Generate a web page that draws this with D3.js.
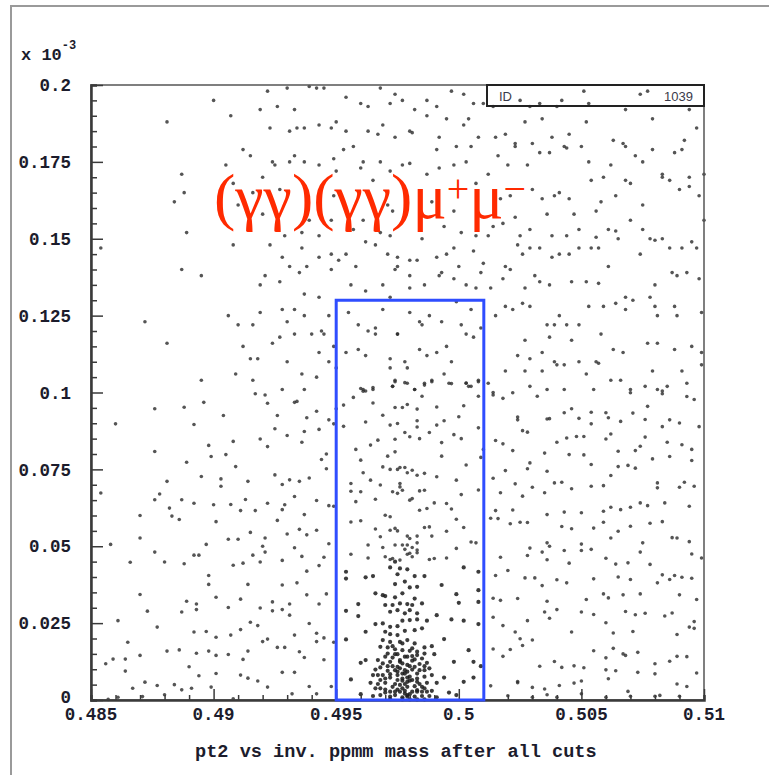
<!DOCTYPE html>
<html>
<head>
<meta charset="utf-8">
<script src="https://cdn.jsdelivr.net/npm/d3@7"></script>
<style>
  body { margin: 0; background: #fff; }
  svg { display: block; }
</style>
</head>
<body>
<script>
// ---- data (mass in GeV, pt2 in units of 1e-3) ----
var xTicks = [0.485, 0.49, 0.495, 0.5, 0.505, 0.51];
var xTickLabels = ["0.485", "0.49", "0.495", "0.5", "0.505", "0.51"];
var yTicks = [0, 0.025, 0.05, 0.075, 0.1, 0.125, 0.15, 0.175, 0.2];
var yTickLabels = ["0", "0.025", "0.05", "0.075", "0.1", "0.125", "0.15", "0.175", "0.2"];
var cutMass = [0.495, 0.50102];
var cutPt2 = 0.13;
var histId = "1039";

var pointsUpperLeft = [
[0.4922,0.198],[0.4930,0.199],[0.4939,0.1995],[0.4942,0.199],[0.4945,0.199],[0.4968,0.199],[0.4900,0.195],[0.4954,0.196],
[0.4919,0.192],[0.4926,0.193],[0.4933,0.192],[0.4960,0.194],[0.4963,0.193],[0.4972,0.194],[0.4974,0.197],[0.4881,0.188],
[0.4907,0.190],[0.4923,0.186],[0.4931,0.185],[0.4934,0.186],[0.4937,0.186],[0.4943,0.187],[0.4948,0.186],[0.4950,0.188],
[0.4954,0.185],[0.4963,0.185],[0.4967,0.184],[0.4969,0.187],[0.4974,0.183],[0.4912,0.179],[0.4915,0.177],[0.4953,0.179],
[0.4957,0.180],[0.4905,0.174],[0.4924,0.175],[0.4925,0.174],[0.4931,0.175],[0.4933,0.177],[0.4937,0.175],[0.4943,0.174],
[0.4949,0.176],[0.4950,0.172],[0.4961,0.175],[0.4960,0.173],[0.4968,0.175],[0.4972,0.172],[0.4887,0.171],[0.4920,0.170],
[0.4908,0.168],[0.4965,0.169],[0.4888,0.165],[0.4884,0.162],[0.4910,0.161],[0.4916,0.165],[0.4927,0.166],[0.4938,0.165],
[0.4949,0.164],[0.4971,0.161],[0.4973,0.159],[0.4920,0.158],[0.4939,0.156],[0.4948,0.156],[0.4961,0.156],[0.4889,0.152],
[0.4929,0.151],[0.4936,0.152],[0.4943,0.151],[0.4957,0.153],[0.4962,0.149],[0.4968,0.152],[0.4972,0.151],[0.4854,0.147],
[0.4908,0.148],[0.4923,0.148],[0.4936,0.147],[0.4966,0.148],[0.4971,0.145],[0.4928,0.144],[0.4943,0.144],[0.4948,0.145],
[0.4951,0.143],[0.4954,0.145],[0.4975,0.144],[0.4887,0.140],[0.4931,0.141],[0.4938,0.141],[0.4948,0.140],[0.4958,0.141],
[0.4974,0.140],[0.4895,0.138],[0.4921,0.138],[0.4935,0.139],[0.4919,0.135],[0.4927,0.136],[0.4956,0.135],[0.4962,0.133],
[0.4969,0.135],[0.4937,0.132],[0.4943,0.131],[0.4972,0.131],[0.4906,0.125],[0.4919,0.126],[0.4928,0.127],[0.4933,0.127],
[0.4937,0.125],[0.4947,0.125],[0.4955,0.126],[0.4969,0.127],[0.4872,0.123],[0.4910,0.122],[0.4916,0.122],[0.4930,0.123],
[0.4944,0.120],[0.4945,0.119],[0.4940,0.119],[0.4933,0.119],[0.4959,0.122],[0.4963,0.120],[0.4966,0.121],[0.4966,0.119],
[0.4975,0.119],[0.4881,0.116],[0.4912,0.115],[0.4924,0.116],[0.4927,0.118],[0.4949,0.115],[0.4954,0.113],[0.4959,0.114],
[0.4962,0.112],[0.4915,0.111],[0.4918,0.111],[0.4930,0.110],[0.4943,0.113],[0.4947,0.110],[0.4950,0.108],[0.4972,0.111],
[0.4972,0.108],[0.4895,0.104],[0.4909,0.106],[0.4916,0.104],[0.4936,0.106],[0.4942,0.105],[0.4974,0.104],[0.4928,0.101],
[0.4937,0.101],[0.4961,0.101],[0.4962,0.1005],[0.4965,0.101],[0.4973,0.102]
];

var pointsUpperRight = [
[0.4977,0.195],[0.4982,0.192],[0.4987,0.195],[0.4991,0.193],[0.4997,0.198],[0.5002,0.197],[0.5006,0.194],[0.5010,0.194],
[0.5025,0.195],[0.5033,0.194],[0.5042,0.195],[0.5051,0.198],[0.5053,0.194],[0.5074,0.197],[0.5077,0.198],[0.5029,0.193],
[0.5040,0.193],[0.5068,0.192],[0.5094,0.192],[0.5014,0.193],[0.4987,0.190],[0.4995,0.189],[0.5004,0.189],[0.5002,0.187],
[0.5027,0.188],[0.5034,0.189],[0.5052,0.188],[0.5079,0.189],[0.5097,0.186],[0.4980,0.185],[0.4981,0.1845],[0.4992,0.183],
[0.4991,0.179],[0.4999,0.180],[0.5005,0.180],[0.5008,0.183],[0.5015,0.183],[0.5019,0.184],[0.5023,0.181],[0.5023,0.180],
[0.5030,0.181],[0.5033,0.178],[0.5037,0.178],[0.5038,0.183],[0.5043,0.180],[0.5044,0.1795],[0.5045,0.184],[0.5050,0.180],
[0.5063,0.182],[0.5067,0.181],[0.5068,0.180],[0.5072,0.177],[0.5079,0.179],[0.5088,0.178],[0.5091,0.179],[0.5092,0.182],
[0.4977,0.174],[0.4980,0.1745],[0.4987,0.171],[0.4992,0.173],[0.4998,0.174],[0.5003,0.175],[0.5016,0.177],[0.5020,0.174],
[0.5028,0.174],[0.5012,0.171],[0.5053,0.175],[0.5062,0.174],[0.5075,0.175],[0.5083,0.171],[0.5083,0.170],[0.5086,0.169],
[0.5094,0.170],[0.5100,0.171],[0.5054,0.169],[0.5059,0.170],[0.5068,0.169],[0.5070,0.168],[0.5090,0.166],[0.5094,0.167],
[0.5098,0.164],[0.5007,0.168],[0.5030,0.166],[0.5034,0.163],[0.5039,0.164],[0.5041,0.165],[0.5045,0.163],[0.5058,0.162],
[0.5064,0.164],[0.5075,0.161],[0.5017,0.163],[0.5021,0.164],[0.4985,0.150],[0.4989,0.162],[0.4994,0.154],[0.5001,0.152],
[0.5007,0.151],[0.5012,0.151],[0.5014,0.154],[0.5018,0.155],[0.5023,0.157],[0.5025,0.151],[0.5029,0.153],[0.4998,0.159],
[0.5036,0.158],[0.5047,0.158],[0.5056,0.159],[0.5049,0.153],[0.5038,0.151],[0.5044,0.151],[0.5056,0.1505],[0.5061,0.153],
[0.5064,0.1525],[0.5070,0.156],[0.5065,0.150],[0.5075,0.153],[0.5078,0.150],[0.5080,0.1495],[0.5083,0.150],[0.5095,0.149],
[0.5086,0.147],[0.5091,0.147],[0.5097,0.147],[0.5100,0.156],[0.5024,0.148],[0.5026,0.145],[0.5029,0.147],[0.5033,0.147],
[0.5038,0.144],[0.5041,0.145],[0.5045,0.145],[0.5049,0.147],[0.5054,0.147],[0.5057,0.147],[0.5074,0.145],[0.5061,0.141],
[0.4980,0.143],[0.4983,0.143],[0.4991,0.144],[0.4995,0.145],[0.4998,0.147],[0.5006,0.146],[0.5010,0.142],[0.5000,0.141],
[0.5019,0.141],[0.5021,0.140],[0.4975,0.141],[0.4980,0.138],[0.4986,0.135],[0.4992,0.138],[0.4993,0.139],[0.4998,0.137],
[0.5003,0.135],[0.5007,0.134],[0.5009,0.139],[0.5013,0.134],[0.5018,0.137],[0.5027,0.134],[0.5031,0.138],[0.5033,0.136],
[0.5037,0.135],[0.5046,0.136],[0.5052,0.136],[0.5057,0.1355],[0.5080,0.135],[0.5087,0.139],[0.5089,0.138],[0.5093,0.139],
[0.5098,0.137],[0.4980,0.134],[0.5068,0.131],[0.5078,0.131],[0.5053,0.128],[0.5059,0.128],[0.5064,0.129],[0.5068,0.127],
[0.5071,0.130],[0.5080,0.128],[0.5081,0.125],[0.5088,0.128],[0.5089,0.125],[0.5099,0.126],[0.5019,0.128],[0.5022,0.127],
[0.5026,0.129],[0.5029,0.128],[0.5015,0.125],[0.5041,0.125],[0.5036,0.122],[0.5039,0.122],[0.5044,0.122],[0.5049,0.122],
[0.5027,0.117],[0.5037,0.118],[0.5046,0.117],[0.5058,0.119],[0.5063,0.114],[0.5067,0.113],[0.5077,0.116],[0.5081,0.116],
[0.5088,0.114],[0.5095,0.115],[0.5099,0.113],[0.5024,0.112],[0.5029,0.111],[0.5034,0.113],[0.5039,0.110],[0.5040,0.109],
[0.5043,0.109],[0.5049,0.110],[0.5056,0.110],[0.5057,0.1095],[0.5052,0.106],[0.5034,0.107],[0.5027,0.107],[0.5019,0.107],
[0.5079,0.107],[0.5091,0.107],[0.5099,0.109],[0.5029,0.102],[0.5036,0.101],[0.5043,0.101],[0.5055,0.101],[0.5062,0.104],
[0.5066,0.104],[0.5070,0.101],[0.5076,0.102],[0.5081,0.101],[0.5083,0.1005],[0.5085,0.102],[0.5093,0.103],[0.5012,0.103],
[0.5014,0.100]
];

var pointsBoxUpper = [
[0.4980,0.126],[0.4984,0.123],[0.4985,0.122],[0.4988,0.125],[0.4993,0.123],[0.4999,0.1295],[0.5001,0.122],[0.5003,0.119],
[0.5006,0.118],[0.5005,0.127],[0.5009,0.121],[0.4975,0.119],[0.4984,0.114],[0.4991,0.113],[0.4995,0.115],[0.4978,0.110],
[0.4987,0.112],[0.4997,0.110],[0.4979,0.108],[0.4994,0.106],[0.4979,0.103],[0.4982,0.101],[0.4986,0.103],[0.4989,0.104],
[0.4996,0.103],[0.5003,0.103],[0.5004,0.102],[0.5008,0.104],
[0.4960,0.1013],[0.4961,0.1004],[0.4965,0.1016],[0.4973,0.1020],[0.4974,0.1035],[0.4978,0.1032],[0.4982,0.1010],[0.4986,0.1024],
[0.4989,0.1035],[0.4997,0.1029],[0.5003,0.1031],[0.5005,0.1020],[0.5008,0.1035],[0.4985,0.0988],[0.5008,0.0988],[0.4957,0.0984],
[0.4965,0.0966],[0.4953,0.0959],[0.4974,0.0951],[0.4977,0.0951],[0.4979,0.0961],[0.4983,0.0946],[0.4991,0.0953],[0.5002,0.0957],
[0.4969,0.0926],[0.5000,0.0921],[0.4962,0.0904],[0.4972,0.0894],[0.4975,0.0899],[0.4983,0.0908],[0.4983,0.0888],[0.4994,0.0908],
[0.4991,0.0894],[0.4953,0.0890],[0.4978,0.0870],[0.4980,0.0856],[0.4984,0.0850],[0.4988,0.0870],[0.4998,0.0863],[0.5001,0.0850],
[0.5008,0.0885],[0.4967,0.0845],[0.4974,0.0848],[0.4964,0.0829],[0.4993,0.0837],[0.4958,0.0815],[0.4971,0.0793],[0.4974,0.0807],
[0.4960,0.0780],[0.4993,0.0793],[0.5010,0.0815],[0.5009,0.0789],
[0.4961,0.0739],[0.4964,0.0715],[0.4969,0.0758],[0.4972,0.0750],[0.4975,0.0750],[0.4976,0.0756],[0.4978,0.0756],[0.4979,0.0739],
[0.4981,0.0747],[0.4983,0.0731],[0.4986,0.0737],[0.4991,0.0726],[0.4999,0.0715],[0.5003,0.0764],[0.5008,0.0683],[0.4956,0.0704],
[0.4956,0.0679],[0.4960,0.0677],[0.4968,0.0699],[0.4966,0.0653],[0.4958,0.0645],[0.4973,0.0677],[0.4976,0.0693],[0.4977,0.0682],
[0.4975,0.0672],[0.4976,0.0704],[0.4980,0.0650],[0.4981,0.0655],[0.4984,0.0617],[0.4987,0.0623],[0.4990,0.0641],[0.4984,0.0680],
[0.4986,0.0682],[0.4995,0.0639],[0.4997,0.0621],[0.5001,0.0668],[0.4956,0.0579],[0.4960,0.0583],[0.4970,0.0601],[0.4972,0.0596],
[0.4966,0.0556],[0.4972,0.0552],[0.4974,0.0558],[0.4975,0.0550],[0.4979,0.0533],[0.4980,0.0525],[0.4983,0.0533],[0.4986,0.0561],
[0.4988,0.0563],[0.4989,0.0533],[0.4983,0.0511],[0.4963,0.0504],[0.4969,0.0496],[0.4979,0.0504],[0.4981,0.0496],[0.4983,0.0488],
[0.4995,0.0549],[0.4999,0.0588],[0.5002,0.0561],[0.5005,0.0514],[0.5007,0.0511],[0.4956,0.0474],[0.4963,0.0462],[0.4970,0.0466],
[0.4972,0.0457],[0.4973,0.0460],[0.4976,0.0455],[0.4979,0.0474],[0.4980,0.0477],[0.4983,0.0479],[0.4988,0.0457],[0.4990,0.0460],
[0.4995,0.0462],[0.4999,0.0493],[0.4968,0.0531],[0.4974,0.0504],[0.4977,0.0504],[0.4978,0.0490],[0.4981,0.0466]
];

var pointsLowerLeft = [
[0.4917,0.0996],[0.4921,0.0992],[0.4922,0.0965],[0.4933,0.0968],[0.4934,0.0971],[0.4876,0.0947],[0.4888,0.0952],[0.4896,0.0968],
[0.4904,0.0925],[0.4860,0.0898],[0.4892,0.0896],[0.4926,0.0925],[0.4938,0.0918],[0.4942,0.0939],[0.4947,0.0911],[0.4949,0.0898],
[0.4950,0.0947],[0.4925,0.0882],[0.4930,0.0860],[0.4937,0.0873],[0.4943,0.0880],[0.4919,0.0849],[0.4908,0.0841],[0.4898,0.0828],
[0.4922,0.0824],[0.4936,0.0838],[0.4876,0.0808],[0.4889,0.0773],[0.4899,0.0792],[0.4905,0.0798],[0.4909,0.0759],[0.4944,0.0782],
[0.4946,0.0800],[0.4946,0.0752],[0.4895,0.0727],[0.4903,0.0719],[0.4903,0.0695],[0.4881,0.0711],[0.4914,0.0711],[0.4925,0.0732],
[0.4928,0.0701],[0.4931,0.0716],[0.4935,0.0711],[0.4939,0.0722],[0.4854,0.0673],[0.4876,0.0651],[0.4878,0.0670],[0.4887,0.0651],
[0.4892,0.0640],[0.4900,0.0635],[0.4907,0.0636],[0.4913,0.0652],[0.4911,0.0616],[0.4917,0.0616],[0.4922,0.0640],[0.4929,0.0635],
[0.4928,0.0619],[0.4933,0.0662],[0.4942,0.0649],[0.4947,0.0632],[0.4949,0.0630],[0.4870,0.0600],[0.4882,0.0624],[0.4883,0.0598],
[0.4886,0.0587],[0.4901,0.0580],[0.4926,0.0584],[0.4937,0.0603],[0.4870,0.0527],[0.4858,0.0506],[0.4897,0.0506],[0.4906,0.0523],
[0.4910,0.0523],[0.4915,0.0545],[0.4921,0.0527],[0.4920,0.0500],[0.4930,0.0540],[0.4935,0.0555],[0.4938,0.0537],[0.4942,0.0552],
[0.4933,0.0495],[0.4947,0.0508],[0.4876,0.0481],[0.4866,0.0448],[0.4880,0.0449],[0.4888,0.0443],[0.4892,0.0471],[0.4894,0.0471],
[0.4908,0.0438],[0.4912,0.0445],[0.4916,0.0471],[0.4919,0.0449],[0.4921,0.0481],[0.4928,0.0454],[0.4936,0.0467],[0.4945,0.0464],
[0.4943,0.0437],[0.4938,0.0419],[0.4898,0.0405],[0.4898,0.0376],[0.4914,0.0376],[0.4928,0.0374],[0.4934,0.0381],[0.4870,0.0343],
[0.4889,0.0321],[0.4893,0.0312],[0.4901,0.0334],[0.4911,0.0328],[0.4924,0.0319],[0.4931,0.0312],[0.4938,0.0342],[0.4946,0.0345],
[0.4924,0.0290],[0.4928,0.0294],[0.4931,0.0276],[0.4943,0.0312],[0.4873,0.0289],[0.4887,0.0286],[0.4893,0.0294],[0.4906,0.0301],
[0.4919,0.0299],[0.4861,0.0258],[0.4877,0.0237],[0.4915,0.0253],[0.4918,0.0242],[0.4939,0.0249],[0.4892,0.0221],[0.4897,0.0223],
[0.4901,0.0204],[0.4907,0.0211],[0.4911,0.0229],[0.4922,0.0198],[0.4920,0.0190],[0.4933,0.0211],[0.4942,0.0217],[0.4942,0.0190],
[0.4945,0.0202],[0.4865,0.0188],[0.4881,0.0159],[0.4886,0.0163],[0.4893,0.0152],[0.4898,0.0159],[0.4901,0.0145],[0.4906,0.0148],
[0.4914,0.0159],[0.4912,0.0132],[0.4926,0.0171],[0.4929,0.0171],[0.4935,0.0157],[0.4937,0.0138],[0.4945,0.0131],[0.4870,0.0145],
[0.4856,0.0118],[0.4859,0.0133],[0.4864,0.0133],[0.4864,0.0094],[0.4890,0.0108],[0.4894,0.0079],[0.4901,0.0086],[0.4911,0.0081],
[0.4914,0.0071],[0.4918,0.0062],[0.4928,0.0090],[0.4933,0.0090],[0.4949,0.0188],[0.4867,0.0038],[0.4872,0.0058],[0.4877,0.0047],
[0.4884,0.0050],[0.4887,0.0033],[0.4891,0.0038],[0.4899,0.0042],[0.4908,0.0004],[0.4880,0.0017],[0.4861,0.0009],[0.4871,0.0011],
[0.4922,0.0042],[0.4932,0.0020],[0.4939,0.0044],[0.4942,0.0020],[0.4948,0.0044],[0.4857,0.0002]
];

var pointsLowerRight = [
[0.5014,0.0992],[0.5018,0.0981],[0.5022,0.0999],[0.5032,0.0988],[0.5070,0.0999],[0.5083,0.0996],[0.5093,0.0987],[0.5096,0.0977],
[0.5077,0.0955],[0.5024,0.0920],[0.5024,0.0911],[0.5036,0.0914],[0.5037,0.0915],[0.5043,0.0934],[0.5046,0.0947],[0.5049,0.0916],
[0.5054,0.0936],[0.5054,0.0898],[0.5060,0.0934],[0.5061,0.0918],[0.5066,0.0906],[0.5071,0.0933],[0.5076,0.0912],[0.5083,0.0889],
[0.5086,0.0911],[0.5090,0.0901],[0.5098,0.0889],[0.5026,0.0876],[0.5028,0.0871],[0.5040,0.0838],[0.5044,0.0852],[0.5048,0.0857],
[0.5051,0.0857],[0.5062,0.0865],[0.5060,0.0849],[0.5015,0.0844],[0.5018,0.0833],[0.5022,0.0811],[0.5035,0.0803],[0.5045,0.0798],
[0.5051,0.0797],[0.5065,0.0809],[0.5072,0.0811],[0.5074,0.0825],[0.5076,0.0855],[0.5085,0.0838],[0.5091,0.0830],[0.5095,0.0815],
[0.5079,0.0784],[0.5086,0.0792],[0.5095,0.0779],[0.5029,0.0771],[0.5028,0.0752],[0.5036,0.0744],[0.5019,0.0746],[0.5054,0.0766],
[0.5062,0.0730],[0.5065,0.0759],[0.5069,0.0763],[0.5072,0.0754],[0.5014,0.0721],[0.5023,0.0703],[0.5030,0.0692],[0.5026,0.0663],
[0.5035,0.0674],[0.5039,0.0706],[0.5042,0.0708],[0.5046,0.0687],[0.5054,0.0695],[0.5059,0.0697],[0.5081,0.0706],[0.5081,0.0690],
[0.5090,0.0692],[0.5092,0.0708],[0.5096,0.0695],[0.5017,0.0674],[0.5015,0.0616],[0.5022,0.0618],[0.5036,0.0603],[0.5043,0.0611],
[0.5050,0.0609],[0.5059,0.0614],[0.5062,0.0627],[0.5066,0.0619],[0.5070,0.0627],[0.5074,0.0641],[0.5077,0.0632],[0.5084,0.0641],
[0.5094,0.0630],[0.5013,0.0591],[0.5016,0.0590],[0.5021,0.0573],[0.5025,0.0578],[0.5028,0.0577],[0.5042,0.0564],[0.5046,0.0557],
[0.5055,0.0559],[0.5059,0.0578],[0.5065,0.0549],[0.5070,0.0565],[0.5078,0.0575],[0.5083,0.0580],[0.5062,0.0527],[0.5087,0.0528],
[0.5089,0.0527],[0.5094,0.0515],[0.5029,0.0494],[0.5036,0.0511],[0.5037,0.0500],[0.5036,0.0456],[0.5028,0.0470],[0.5034,0.0481],
[0.5043,0.0486],[0.5050,0.0507],[0.5050,0.0486],[0.5054,0.0490],[0.5017,0.0464],[0.5020,0.0421],[0.5045,0.0445],[0.5060,0.0461],
[0.5064,0.0442],[0.5069,0.0446],[0.5074,0.0481],[0.5075,0.0511],[0.5078,0.0441],[0.5095,0.0475],[0.5099,0.0462],[0.5015,0.0405],
[0.5027,0.0397],[0.5031,0.0397],[0.5040,0.0391],[0.5055,0.0394],[0.5034,0.0372],[0.5044,0.0381],[0.5065,0.0400],[0.5070,0.0392],
[0.5081,0.0381],[0.5083,0.0407],[0.5086,0.0392],[0.5088,0.0405],[0.5091,0.0399],[0.5095,0.0396],[0.5014,0.0331],[0.5017,0.0324],
[0.5024,0.0330],[0.5036,0.0321],[0.5052,0.0327],[0.5059,0.0345],[0.5061,0.0332],[0.5067,0.0342],[0.5074,0.0345],[0.5090,0.0342],
[0.5097,0.0327],[0.5014,0.0269],[0.5018,0.0242],[0.5028,0.0258],[0.5035,0.0286],[0.5037,0.0266],[0.5040,0.0294],[0.5050,0.0286],
[0.5055,0.0278],[0.5068,0.0288],[0.5072,0.0277],[0.5076,0.0282],[0.5084,0.0273],[0.5087,0.0283],[0.5096,0.0255],[0.5096,0.0233],
[0.5023,0.0221],[0.5025,0.0199],[0.5030,0.0195],[0.5026,0.0177],[0.5046,0.0221],[0.5060,0.0251],[0.5063,0.0218],[0.5071,0.0223],
[0.5089,0.0213],[0.5094,0.0237],[0.5014,0.0166],[0.5018,0.0142],[0.5021,0.0164],[0.5055,0.0160],[0.5060,0.0137],[0.5063,0.0168],
[0.5067,0.0150],[0.5068,0.0145],[0.5073,0.0155],[0.5080,0.0118],[0.5080,0.0085],[0.5086,0.0126],[0.5089,0.0142],[0.5093,0.0141],
[0.5033,0.0110],[0.5039,0.0125],[0.5042,0.0106],[0.5047,0.0111],[0.5051,0.0105],[0.5060,0.0098],[0.5064,0.0095],[0.5073,0.0090],
[0.5097,0.0088],[0.5013,0.0046],[0.5024,0.0060],[0.5024,0.0056],[0.5030,0.0041],[0.5035,0.0036],[0.5036,0.0017],[0.5041,0.0047],
[0.5047,0.0055],[0.5050,0.0062],[0.5061,0.0069],[0.5069,0.0028],[0.5080,0.0012],[0.5082,0.0015],[0.5089,0.0052],[0.5093,0.0044],
[0.5020,0.0014],[0.5030,0.0009],[0.5040,0.0009],[0.5050,0.0020],[0.5060,0.0009],[0.5070,0.0012],[0.5090,0.0012]
];

var pointsPeak = [
[0.4954,0.0417],[0.4954,0.0395],[0.4962,0.0399],[0.4965,0.0403],[0.4972,0.0431],[0.4974,0.0450],[0.4976,0.0428],[0.4979,0.0425],
[0.4975,0.0409],[0.4982,0.0403],[0.4986,0.0403],[0.4993,0.0374],[0.5002,0.0431],[0.5008,0.0417],[0.4974,0.0377],[0.4978,0.0385],
[0.4980,0.0366],[0.4983,0.0368],[0.4966,0.0347],[0.4969,0.0341],[0.4970,0.0338],[0.4974,0.0334],[0.4977,0.0347],[0.4982,0.0330],
[0.4985,0.0314],[0.4973,0.0309],[0.4976,0.0314],[0.4979,0.0312],[0.4981,0.0309],[0.4970,0.0309],[0.4959,0.0312],[0.4954,0.0290],
[0.4959,0.0273],[0.4972,0.0287],[0.4975,0.0292],[0.4978,0.0282],[0.4980,0.0292],[0.4983,0.0282],[0.4977,0.0258],[0.4980,0.0260],
[0.4983,0.0262],[0.4987,0.0258],[0.4991,0.0276],[0.4997,0.0262],[0.5002,0.0258],[0.5008,0.0247],[0.4999,0.0344],[0.5000,0.0316],
[0.5008,0.0357],[0.5008,0.0319],[0.4966,0.0247],[0.4969,0.0249],[0.4972,0.0238],[0.4975,0.0240],[0.4962,0.0222],[0.4970,0.0222],
[0.4972,0.0214],[0.4975,0.0211],[0.4978,0.0225],[0.4982,0.0227],[0.4985,0.0233],[0.4954,0.0197],[0.4994,0.0198],[0.4969,0.0195],
[0.4972,0.0189],[0.4976,0.0189],[0.4979,0.0195],[0.4968,0.0173],[0.4971,0.0171],[0.4974,0.0165],[0.4977,0.0162],[0.4981,0.0168],
[0.4983,0.0157],[0.4986,0.0171],[0.4989,0.0175],[0.4971,0.0151],[0.4974,0.0149],[0.4978,0.0141],[0.4981,0.0143],[0.4983,0.0146],
[0.4986,0.0151],[0.4990,0.0149],[0.4960,0.0121],[0.4962,0.0130],[0.4967,0.0130],[0.4969,0.0119],[0.4972,0.0124],[0.4976,0.0124],
[0.4979,0.0114],[0.4981,0.0128],[0.4984,0.0117],[0.4987,0.0121],[0.4998,0.0124],[0.5004,0.0162],[0.5006,0.0124],[0.5009,0.0110],
[0.4966,0.0099],[0.4968,0.0106],[0.4971,0.0095],[0.4974,0.0097],[0.4976,0.0103],[0.4979,0.0092],[0.4981,0.0099],[0.4983,0.0086],
[0.4986,0.0097],[0.4988,0.0103],[0.4965,0.0081],[0.4969,0.0081],[0.4972,0.0073],[0.4975,0.0081],[0.4977,0.0070],[0.4980,0.0076],
[0.4983,0.0070],[0.4986,0.0076],[0.4989,0.0081],[0.4994,0.0073],[0.5006,0.0073],[0.4956,0.0067],[0.4964,0.0056],[0.4967,0.0052],
[0.4970,0.0056],[0.4974,0.0052],[0.4976,0.0049],[0.4979,0.0059],[0.4982,0.0045],[0.4984,0.0052],[0.4987,0.0056],[0.4991,0.0056],
[0.5002,0.0059],[0.4970,0.0034],[0.4972,0.0027],[0.4975,0.0034],[0.4978,0.0030],[0.4981,0.0027],[0.4983,0.0032],[0.4986,0.0038],
[0.4989,0.0030],[0.4996,0.0024],[0.4960,0.0019],[0.4965,0.0013],[0.4972,0.0011],[0.4974,0.0016],[0.4977,0.0009],[0.4979,0.0016],
[0.4982,0.0011],[0.4985,0.0013],[0.4991,0.0009],[0.4999,0.0016],[0.4972,0.0003],[0.4977,0.0002],[0.4980,0.0002],[0.4983,0.0002],
[0.4967,0.0081],[0.4968,0.0038],[0.4973,0.0175],[0.4976,0.0130],[0.4975,0.0108],[0.4979,0.0141],[0.4982,0.0184],[0.4985,0.0135],
[0.4977,0.0184],[0.4982,0.0108],[0.4970,0.0141],[0.4973,0.0043],[0.4979,0.0043],[0.4981,0.0065],[0.4974,0.0027],[0.4980,0.0019],
[0.4985,0.0027],[0.4968,0.0065],[0.4975,0.0065],[0.4978,0.0086],[0.4984,0.0097],[0.4966,0.0038],
[0.4977,0.0119],[0.4978,0.0097],[0.4977,0.0086],[0.4979,0.0073],[0.4977,0.0063],[0.4978,0.0052],[0.4977,0.0038],[0.4978,0.0021],
[0.4979,0.0011],[0.4976,0.0027],[0.4980,0.0110],[0.4980,0.0063],[0.4975,0.0092],[0.4973,0.0110],[0.4972,0.0084],[0.4970,0.0070],
[0.4983,0.0059],[0.4985,0.0043],[0.4987,0.0027],[0.4988,0.0013],[0.4970,0.0024],[0.4968,0.0016],[0.4983,0.0027],[0.4986,0.0002],
[0.4975,0.0149],[0.4982,0.0132],[0.4980,0.0160],[0.4973,0.0138],[0.4986,0.0110],[0.4971,0.0110]
];

var backgroundPoints = pointsUpperLeft.concat(pointsUpperRight, pointsBoxUpper, pointsLowerLeft, pointsLowerRight);

// ---- layout ----
var W = 769, H = 775;
var margin = {top: 85, right: 65, bottom: 75, left: 91},
    width = W - margin.left - margin.right,
    height = H - margin.top - margin.bottom;

var monoFont = "'Liberation Mono', 'DejaVu Sans Mono', monospace";
var axisColor = "#3a3a3a";
var labelColor = "#1c1c2c";

var svg = d3.select("body")
  .append("svg")
    .attr("width", W)
    .attr("height", H);

// outer canvas frame (only top and left edge are in view)
svg.append("path")
    .attr("d", "M11," + H + " V6 H" + W)
    .attr("fill", "none")
    .attr("stroke", "#9a9a9a")
    .attr("stroke-width", 2);

var g = svg.append("g")
    .attr("transform", "translate(" + margin.left + "," + margin.top + ")");

var x = d3.scaleLinear()
    .domain([0.485, 0.51])
    .range([0, width]);

var y = d3.scaleLinear()
    .domain([0, 0.2])
    .range([height, 0]);

// points
g.append("g")
  .selectAll("circle")
  .data(backgroundPoints)
  .enter()
  .append("circle")
    .attr("cx", function(d) { return x(d[0]); })
    .attr("cy", function(d) { return y(d[1]); })
    .attr("r", 1.8)
    .style("fill", "#2a2a2a")
    .style("opacity", 0.8);

g.append("g")
  .selectAll("circle")
  .data(pointsPeak)
  .enter()
  .append("circle")
    .attr("cx", function(d) { return x(d[0]); })
    .attr("cy", function(d) { return y(d[1]); })
    .attr("r", 2.1)
    .style("fill", "#1a1a1a")
    .style("opacity", 0.85);

// frame
g.append("rect")
    .attr("x", 0)
    .attr("y", 0)
    .attr("width", width)
    .attr("height", height)
    .attr("fill", "none")
    .attr("stroke", "#555")
    .attr("stroke-width", 1.5);

// ticks on the bottom (pointing up) and left (pointing right)
var xMinor = d3.range(0, 26).map(function(i) { return 0.485 + i * 0.001; });
var yMinor = d3.range(0, 41).map(function(i) { return i * 0.005; });

var xAxis = d3.axisTop(x)
    .tickValues(xMinor)
    .tickSize(5)
    .tickFormat("");
g.append("g")
    .attr("transform", "translate(0," + height + ")")
    .call(xAxis)
    .call(function(s) {
      s.select(".domain").attr("stroke", axisColor).attr("stroke-width", 2.5);
      s.selectAll(".tick line").attr("stroke", axisColor).attr("stroke-width", 1.5)
        .attr("y2", function(d) {
          return xTicks.some(function(t) { return Math.abs(t - d) < 1e-7; }) ? -11 : -5;
        });
    });

var yAxis = d3.axisRight(y)
    .tickValues(yMinor)
    .tickSize(6)
    .tickFormat("");
g.append("g")
    .call(yAxis)
    .call(function(s) {
      s.select(".domain").attr("stroke", axisColor).attr("stroke-width", 2.5);
      s.selectAll(".tick line").attr("stroke", axisColor).attr("stroke-width", 1.5)
        .attr("x2", function(d) {
          return yTicks.some(function(t) { return Math.abs(t - d) < 1e-7; }) ? 12 : 6;
        });
    });

// tick labels
g.append("g")
  .selectAll("text")
  .data(xTicks)
  .enter()
  .append("text")
    .attr("x", function(d) { return x(d); })
    .attr("y", height + 20)
    .style("text-anchor", "middle")
    .style("font-family", monoFont)
    .style("font-weight", "bold")
    .style("font-size", "17.5px")
    .style("fill", labelColor)
    .text(function(d, i) { return xTickLabels[i]; });

g.append("g")
  .selectAll("text")
  .data(yTicks)
  .enter()
  .append("text")
    .attr("x", -20)
    .attr("y", function(d) { return d === 0 ? y(d) - 3 : y(d); })
    .attr("dy", "0.35em")
    .style("text-anchor", "end")
    .style("font-family", monoFont)
    .style("font-weight", "bold")
    .style("font-size", "17.5px")
    .style("fill", labelColor)
    .text(function(d, i) { return yTickLabels[i]; });

// exponent label
var expo = svg.append("text")
    .attr("x", 21)
    .attr("y", 60)
    .style("font-family", monoFont)
    .style("font-weight", "bold")
    .style("font-size", "17px")
    .style("fill", labelColor);
expo.append("tspan").text("x 10");
expo.append("tspan")
    .attr("dy", -11)
    .style("font-size", "12px")
    .text("-3");

// x axis title
svg.append("text")
    .attr("x", 195)
    .attr("y", 757)
    .style("font-family", monoFont)
    .style("font-weight", "bold")
    .style("font-size", "18.6px")
    .style("fill", labelColor)
    .text("pt2 vs inv. ppmm mass after all cuts");

// stats box
var statW = 217, statH = 21;
g.append("rect")
    .attr("x", width - statW)
    .attr("y", 0)
    .attr("width", statW)
    .attr("height", statH)
    .attr("fill", "none")
    .attr("stroke", "#222")
    .attr("stroke-width", 2);
g.append("text")
    .attr("x", width - statW + 12)
    .attr("y", 16)
    .style("font-family", "'Liberation Sans', Arial, sans-serif")
    .style("font-size", "13px")
    .style("fill", "#3a3a4a")
    .text("ID");
g.append("text")
    .attr("x", width - 11)
    .attr("y", 16)
    .style("text-anchor", "end")
    .style("font-family", "'Liberation Sans', Arial, sans-serif")
    .style("font-size", "13px")
    .style("fill", "#3a3a4a")
    .text(histId);

// signal window
g.append("rect")
    .attr("x", x(cutMass[0]))
    .attr("y", y(cutPt2))
    .attr("width", x(cutMass[1]) - x(cutMass[0]))
    .attr("height", y(0) - y(cutPt2))
    .attr("fill", "none")
    .attr("stroke", "#2f4dff")
    .attr("stroke-width", 3);

// decay channel label
var chan = svg.append("text")
    .attr("x", 214)
    .attr("y", 218)
    .style("font-family", "'Liberation Serif', 'Times New Roman', serif")
    .style("font-size", "64px")
    .style("fill", "#ff2a00");
chan.append("tspan").text("(γγ)(γγ)μ");
chan.append("tspan").attr("dy", -16).style("font-size", "40px").text("+");
chan.append("tspan").attr("dy", 16).text("μ");
chan.append("tspan").attr("dy", -16).style("font-size", "40px").text("−");
</script>
</body>
</html>
